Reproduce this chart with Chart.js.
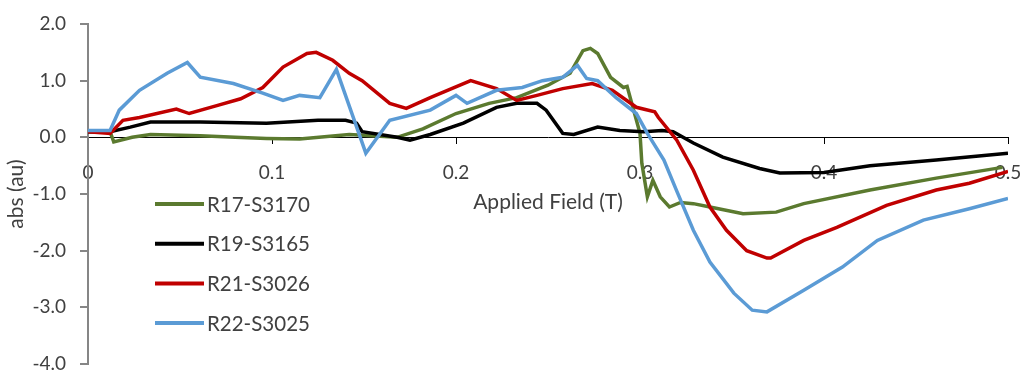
<html>
<head>
    <meta charset="UTF-8">
    <title>Applied Field absorption</title>
    <style>
        body { margin: 0; background: #fff; }
        #wrap { width: 1025px; height: 375px; }
    </style>
</head>
<body>
    <div id="wrap"><canvas id="fieldChart" width="1025" height="375"></canvas></div>
    <script src="https://cdn.jsdelivr.net/npm/chart.js"></script>
    <script>
        // series names, in legend order
        const seriesNames = ['R17-S3170', 'R19-S3165', 'R21-S3026', 'R22-S3025'];
        const seriesColors = ['#5b7a2f', '#000000', '#c00000', '#5b9bd5'];

        // applied field (T) and abs (au)
        const fieldR17 = [0, 0.012, 0.014, 0.024, 0.034, 0.061, 0.08, 0.097, 0.115, 0.142, 0.168, 0.182, 0.2, 0.218, 0.233, 0.25, 0.262, 0.269, 0.273, 0.277, 0.284, 0.291, 0.293, 0.3, 0.301, 0.304, 0.307, 0.311, 0.316, 0.322, 0.329, 0.338, 0.356, 0.374, 0.389, 0.425, 0.461, 0.497];
        const absR17   = [0.1, 0.1, -0.08, 0.0, 0.05, 0.03, 0.0, -0.02, -0.03, 0.05, 0.0, 0.15, 0.42, 0.6, 0.7, 0.92, 1.13, 1.53, 1.57, 1.48, 1.06, 0.88, 0.9, 0.07, -0.46, -1.05, -0.76, -1.05, -1.23, -1.15, -1.17, -1.23, -1.35, -1.32, -1.17, -0.93, -0.72, -0.53];

        const fieldR19 = [0, 0.012, 0.023, 0.034, 0.061, 0.097, 0.125, 0.14, 0.146, 0.149, 0.168, 0.175, 0.186, 0.204, 0.222, 0.233, 0.244, 0.249, 0.258, 0.264, 0.277, 0.289, 0.302, 0.312, 0.318, 0.329, 0.345, 0.365, 0.376, 0.4, 0.425, 0.461, 0.5];
        const absR19   = [0.1, 0.1, 0.18, 0.27, 0.27, 0.25, 0.3, 0.3, 0.25, 0.1, 0.0, -0.05, 0.05, 0.25, 0.53, 0.6, 0.6, 0.48, 0.07, 0.05, 0.18, 0.12, 0.1, 0.12, 0.1, -0.1, -0.35, -0.55, -0.63, -0.62, -0.5, -0.4, -0.28];

        const fieldR21 = [0, 0.012, 0.019, 0.028, 0.048, 0.055, 0.07, 0.083, 0.095, 0.106, 0.119, 0.124, 0.133, 0.142, 0.149, 0.164, 0.173, 0.186, 0.208, 0.222, 0.233, 0.244, 0.258, 0.274, 0.285, 0.298, 0.308, 0.31, 0.32, 0.329, 0.338, 0.347, 0.358, 0.369, 0.371, 0.389, 0.407, 0.434, 0.461, 0.479, 0.5];
        const absR21   = [0.1, 0.07, 0.3, 0.35, 0.5, 0.42, 0.56, 0.68, 0.88, 1.24, 1.48, 1.5, 1.36, 1.13, 1.0, 0.6, 0.51, 0.7, 1.0, 0.86, 0.65, 0.74, 0.86, 0.95, 0.83, 0.53, 0.45, 0.35, -0.05, -0.58, -1.23, -1.64, -2.0, -2.13, -2.13, -1.82, -1.59, -1.2, -0.93, -0.81, -0.6];

        const fieldR22 = [0, 0.012, 0.017, 0.028, 0.043, 0.054, 0.061, 0.079, 0.095, 0.106, 0.115, 0.126, 0.135, 0.151, 0.164, 0.186, 0.2, 0.206, 0.222, 0.236, 0.247, 0.258, 0.266, 0.271, 0.277, 0.287, 0.298, 0.304, 0.313, 0.32, 0.329, 0.338, 0.351, 0.361, 0.369, 0.389, 0.41, 0.429, 0.454, 0.479, 0.5];
        const absR22   = [0.12, 0.12, 0.48, 0.83, 1.13, 1.32, 1.06, 0.95, 0.78, 0.65, 0.74, 0.7, 1.2, -0.28, 0.3, 0.48, 0.74, 0.6, 0.83, 0.88, 1.0, 1.06, 1.27, 1.04, 1.0, 0.7, 0.42, 0.07, -0.4, -0.95, -1.64, -2.2, -2.75, -3.05, -3.08, -2.7, -2.29, -1.82, -1.46, -1.26, -1.08];

        const fieldLists = [fieldR17, fieldR19, fieldR21, fieldR22];
        const absLists = [absR17, absR19, absR21, absR22];

        const xTickLabels = ['0', '0.1', '0.2', '0.3', '0.4', '0.5'];

        const fontName = 'Lato, "Open Sans", sans-serif';
        const textColor = '#404040';

        function pairUp(xs, ys) {
            return xs.map((x, i) => ({ x: x, y: ys[i] }));
        }

        // Legend drawn inside the plot, like the Excel original
        const insideLegend = {
            id: 'insideLegend',
            afterDraw(chart) {
                const c = chart.ctx;
                const left = chart.chartArea.left;
                c.save();
                c.font = '20.5px ' + fontName;
                c.textBaseline = 'middle';
                seriesNames.forEach((name, i) => {
                    const y = 204 + i * 39.7;
                    c.strokeStyle = seriesColors[i];
                    c.lineWidth = 4;
                    c.beginPath();
                    c.moveTo(left + 67, y);
                    c.lineTo(left + 116, y);
                    c.stroke();
                    c.fillStyle = textColor;
                    c.fillText(name, left + 119, y + 1);
                });
                c.restore();
            }
        };

        const datasets = seriesNames.map((name, i) => ({
            label: name,
            data: pairUp(fieldLists[i], absLists[i]),
            borderColor: seriesColors[i],
            backgroundColor: seriesColors[i],
            borderWidth: 3.5,
            pointRadius: 0,
            tension: 0,
            fill: false,
            order: 4 - i // later series on top
        }));

        const ctx = document.getElementById('fieldChart').getContext('2d');
        const fieldChart = new Chart(ctx, {
            type: 'line',
            data: { datasets: datasets },
            plugins: [insideLegend],
            options: {
                responsive: false,
                animation: false,
                layout: { padding: { top: 24, bottom: 11, right: 17, left: 0 } },
                plugins: {
                    legend: { display: false },
                    tooltip: { enabled: false }
                },
                scales: {
                    x: {
                        type: 'linear',
                        min: 0,
                        max: 0.5,
                        position: { y: 0 },
                        ticks: {
                            stepSize: 0.1,
                            autoSkip: false,
                            maxRotation: 0,
                            padding: 18,
                            color: textColor,
                            font: { family: fontName, size: 19 },
                            callback: (v, i) => xTickLabels[i]
                        },
                        grid: { drawOnChartArea: false, tickLength: 6, color: '#000', lineWidth: 1 },
                        border: { color: '#000', width: 1 },
                        title: {
                            display: true,
                            text: 'Applied Field (T)',
                            color: textColor,
                            padding: { top: -12, bottom: 4 },
                            font: { family: fontName, size: 21 }
                        },
                        afterFit: scale => { scale.paddingLeft = 0; scale.paddingRight = 0; }
                    },
                    y: {
                        min: -4,
                        max: 2,
                        ticks: {
                            stepSize: 1,
                            padding: 14,
                            color: textColor,
                            font: { family: fontName, size: 19 },
                            callback: v => v.toFixed(1)
                        },
                        grid: { drawOnChartArea: false, tickLength: 8, color: '#868686', lineWidth: 2 },
                        border: { color: '#868686', width: 2 },
                        title: {
                            display: true,
                            text: 'abs (au)',
                            color: textColor,
                            padding: { top: 4, bottom: 0 },
                            font: { family: fontName, size: 21 }
                        },
                        afterFit: scale => {
                            scale.width = 88;
                            scale.paddingTop = 0;
                            scale.paddingBottom = 0;
                        }
                    }
                }
            }
        });
    </script>
</body>
</html>
